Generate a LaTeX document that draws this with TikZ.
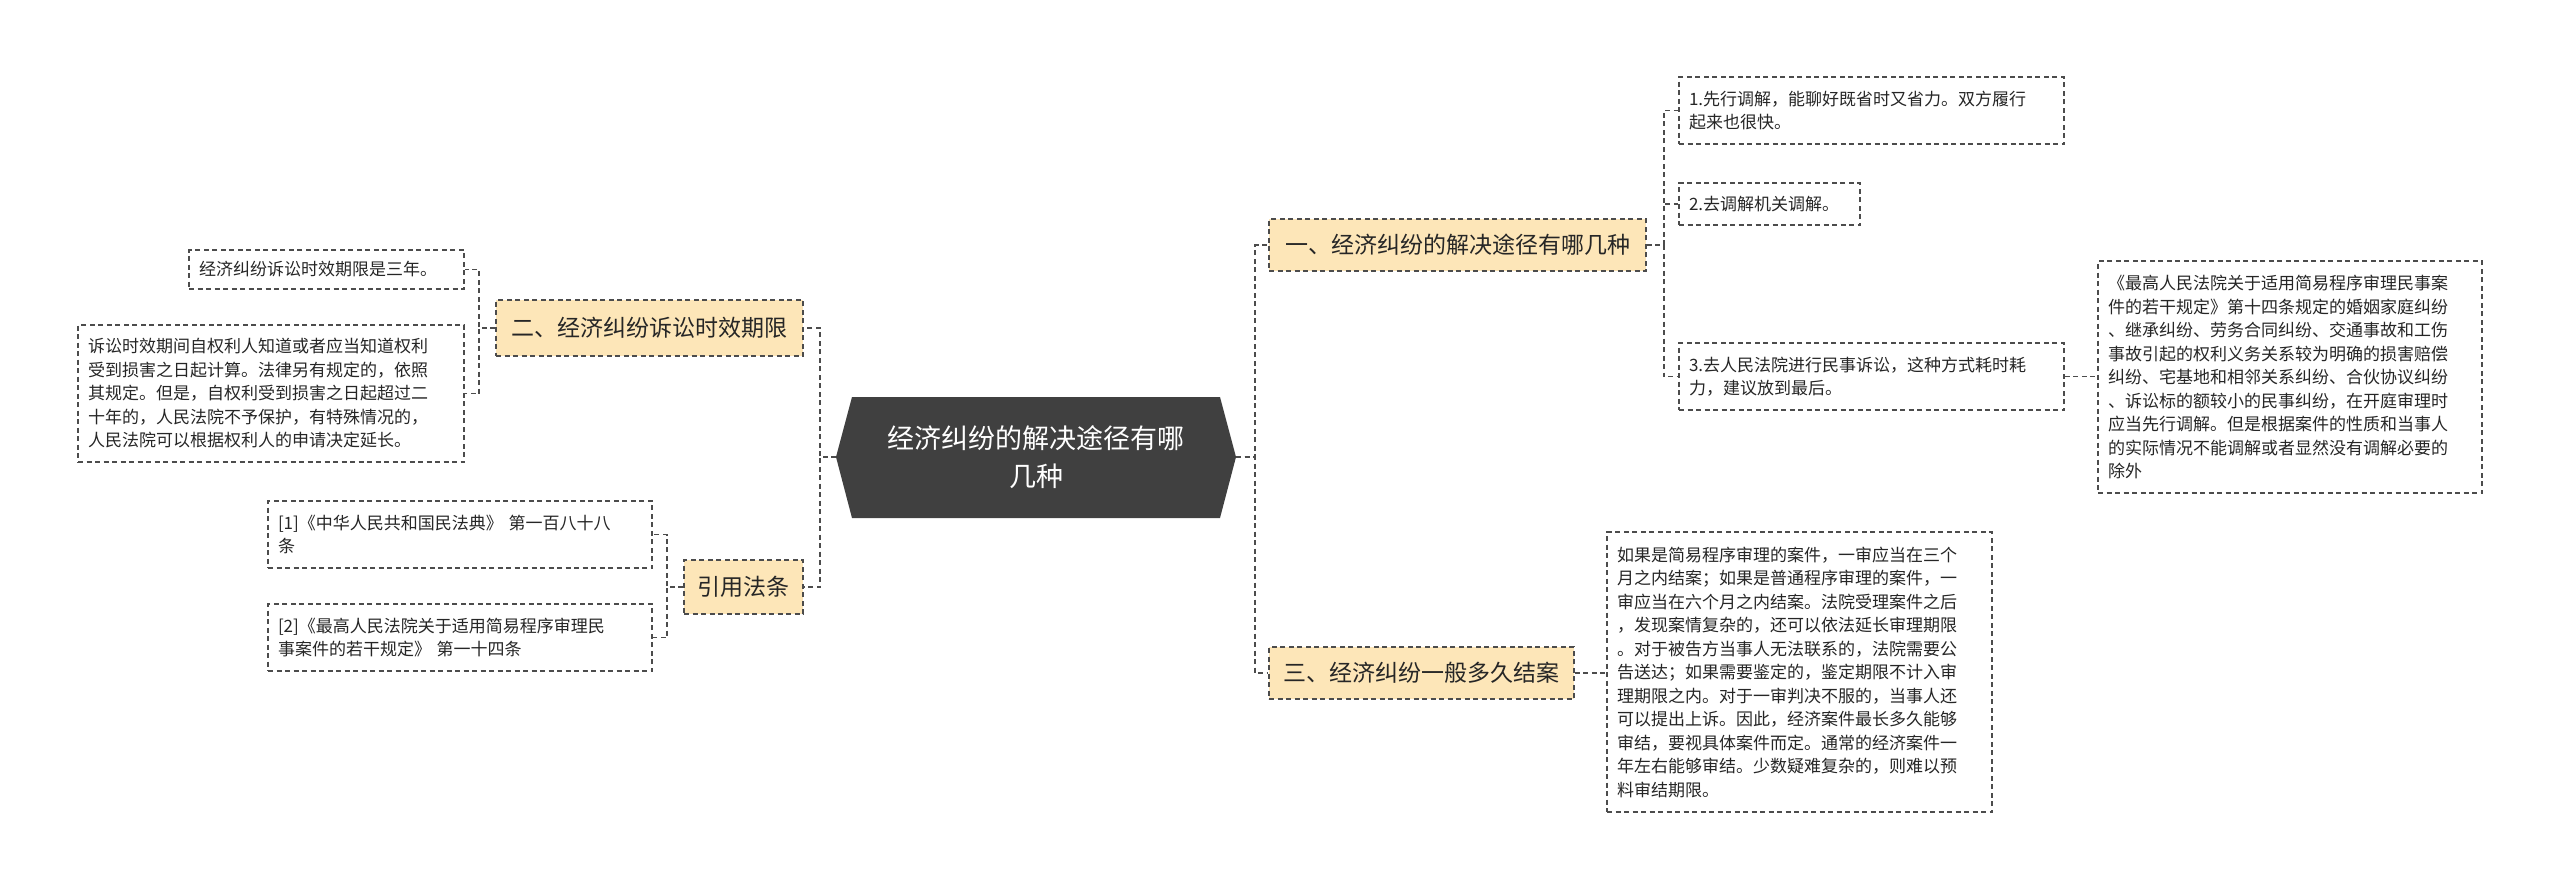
\documentclass[tikz,border=0pt]{standalone}
\usepackage{fontspec}
\setmainfont{Noto Sans CJK SC}
\begin{document}
\begin{tikzpicture}[x=1pt,y=-1pt,
  conn/.style={draw=black!70,line width=1.6pt,dash pattern=on 5pt off 3.5pt},
  leaf/.style={draw=black!70,line width=1.6pt,dash pattern=on 5pt off 3.5pt,fill=white,align=left,font=\fontsize{17}{23.5}\selectfont,text=black!85,inner sep=0pt},
  topic/.style={draw=black!70,line width=1.6pt,dash pattern=on 5pt off 3.5pt,fill=yellow!30!orange!25,font=\fontsize{23}{27}\selectfont,text=black!85,inner sep=0pt}]
\useasboundingbox (0,0) rectangle (2560,889);
\fill[white] (0,0) rectangle (2560,889);
\newcommand\leafnode[7][leaf]{%
  \pgfmathsetmacro\cx{(#3+#5)/2}\pgfmathsetmacro\cy{(#4+#6)/2}%
  \pgfmathsetmacro\ww{#5-#3}\pgfmathsetmacro\hh{#6-#4}\pgfmathsetmacro\tw{#5-#3-20}%
  \node[#1,minimum width=\ww pt,minimum height=\hh pt,text width=\tw pt] (#2) at (\cx,\cy) {#7};}
\newcommand\topicnode[6]{%
  \pgfmathsetmacro\cx{(#2+#4)/2}\pgfmathsetmacro\cy{(#3+#5)/2}%
  \pgfmathsetmacro\ww{#4-#2}\pgfmathsetmacro\hh{#5-#3}%
  \node[topic,minimum width=\ww pt,minimum height=\hh pt] (#1) at (\cx,\cy) {#6};}
% center
\fill[black!75] (836,457) -- (852,397) -- (1220,397) -- (1236,457) -- (1220,518) -- (852,518) -- cycle;
\node[text=white,align=center,font=\fontsize{27}{38}\selectfont] (c) at (1036,457) {经济纠纷的解决途径有哪\\几种};
\coordinate (cR) at (1236,457); \coordinate (cL) at (836,457);
% topics
\topicnode{t1}{1269}{219}{1646}{271}{一、经济纠纷的解决途径有哪几种}
\topicnode{t3}{1269}{647}{1574}{699}{三、经济纠纷一般多久结案}
\topicnode{t2}{496}{300}{803}{356}{二、经济纠纷诉讼时效期限}
\topicnode{t4}{684}{560}{803}{614}{引用法条}
\leafnode{a1}{1679}{77}{2064}{144}{1.先行调解，能聊好既省时又省力。双方履行\\起来也很快。}
\leafnode{a2}{1679}{183}{1860}{225}{2.去调解机关调解。}
\leafnode{a3}{1679}{343}{2064}{410}{3.去人民法院进行民事诉讼，这种方式耗时耗\\力，建议放到最后。}
\leafnode{a4}{2098}{261}{2482}{493}{《最高人民法院关于适用简易程序审理民事案\\件的若干规定》第十四条规定的婚姻家庭纠纷\\、继承纠纷、劳务合同纠纷、交通事故和工伤\\事故引起的权利义务关系较为明确的损害赔偿\\纠纷、宅基地和相邻关系纠纷、合伙协议纠纷\\、诉讼标的额较小的民事纠纷，在开庭审理时\\应当先行调解。但是根据案件的性质和当事人\\的实际情况不能调解或者显然没有调解必要的\\除外}
\leafnode{b1}{1607}{532}{1992}{812}{如果是简易程序审理的案件，一审应当在三个\\月之内结案；如果是普通程序审理的案件，一\\审应当在六个月之内结案。法院受理案件之后\\，发现案情复杂的，还可以依法延长审理期限\\。对于被告方当事人无法联系的，法院需要公\\告送达；如果需要鉴定的，鉴定期限不计入审\\理期限之内。对于一审判决不服的，当事人还\\可以提出上诉。因此，经济案件最长多久能够\\审结，要视具体案件而定。通常的经济案件一\\年左右能够审结。少数疑难复杂的，则难以预\\料审结期限。}
\leafnode{d1}{189}{250}{464}{289}{经济纠纷诉讼时效期限是三年。}
\leafnode{d2}{78}{325}{464}{462}{诉讼时效期间自权利人知道或者应当知道权利\\受到损害之日起计算。法律另有规定的，依照\\其规定。但是，自权利受到损害之日起超过二\\十年的，人民法院不予保护，有特殊情况的，\\人民法院可以根据权利人的申请决定延长。}
\leafnode{e1}{268}{501}{652}{568}{[1]《中华人民共和国民法典》 第一百八十八\\条}
\leafnode{e2}{268}{604}{652}{671}{[2]《最高人民法院关于适用简易程序审理民\\事案件的若干规定》 第一十四条}
% connectors
\draw[conn] (cR) -- ++(19,0) |- (t1.west);
\draw[conn] (cR) -- ++(19,0) |- (t3.west);
\draw[conn] (cL) -- ++(-16,0) |- (t2.east);
\draw[conn] (cL) -- ++(-16,0) |- (t4.east);
\draw[conn] (t1.east) -- ++(17,0) |- (a1.west);
\draw[conn] (t1.east) -- ++(17,0) |- (a2.west);
\draw[conn] (t1.east) -- ++(17,0) |- (a3.west);
\draw[conn] (a3.east) -- (a3.east -| a4.west);
\draw[conn] (t3.east) -- (b1.west |- t3.east);
\draw[conn] (t2.west) -- ++(-16,0) |- (d1.east);
\draw[conn] (t2.west) -- ++(-16,0) |- (d2.east);
\draw[conn] (t4.west) -- ++(-16,0) |- (e1.east);
\draw[conn] (t4.west) -- ++(-16,0) |- (e2.east);
\end{tikzpicture}
\end{document}
